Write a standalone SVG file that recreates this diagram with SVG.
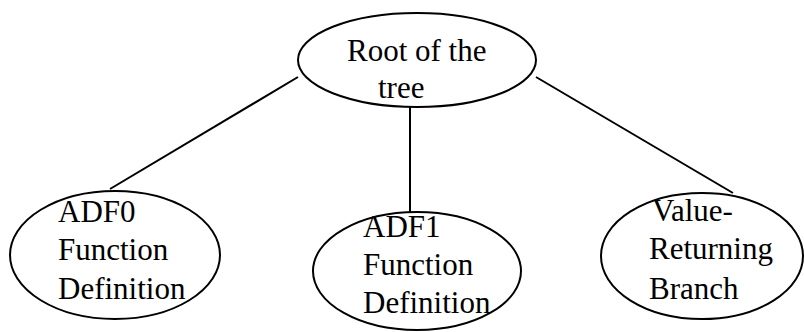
<svg xmlns="http://www.w3.org/2000/svg" width="804" height="332" viewBox="0 0 804 332">
<style>
.n ellipse{fill:#fff;stroke:#000;stroke-width:2}
.n text{font-family:"Liberation Serif","Times New Roman",serif;font-size:31px;fill:#000}
#edges line{stroke:#000;stroke-width:2}
</style>
<rect width="804" height="332" fill="#fff"/>
<g id="edges">
<line x1="298" y1="77" x2="110" y2="189"/>
<line x1="410" y1="107" x2="410" y2="212"/>
<line x1="536" y1="77" x2="733" y2="193"/>
</g>
<g id="root" class="n">
<ellipse cx="417" cy="60" rx="119" ry="47"/>
<text x="347" y="61">Root of the</text>
<text x="378" y="98">tree</text>
</g>
<g id="adf0" class="n">
<ellipse cx="115" cy="255" rx="105" ry="64"/>
<text x="58" y="222">ADF0</text>
<text x="58" y="260">Function</text>
<text x="58" y="299">Definition</text>
</g>
<g id="adf1" class="n">
<ellipse cx="417" cy="271" rx="104" ry="59"/>
<text x="363" y="237">ADF1</text>
<text x="363" y="275">Function</text>
<text x="363" y="313">Definition</text>
</g>
<g id="vrb" class="n">
<ellipse cx="702" cy="256" rx="101" ry="63"/>
<text x="652" y="221">Value-</text>
<text x="649" y="259">Returning</text>
<text x="649" y="299">Branch</text>
</g>
</svg>
